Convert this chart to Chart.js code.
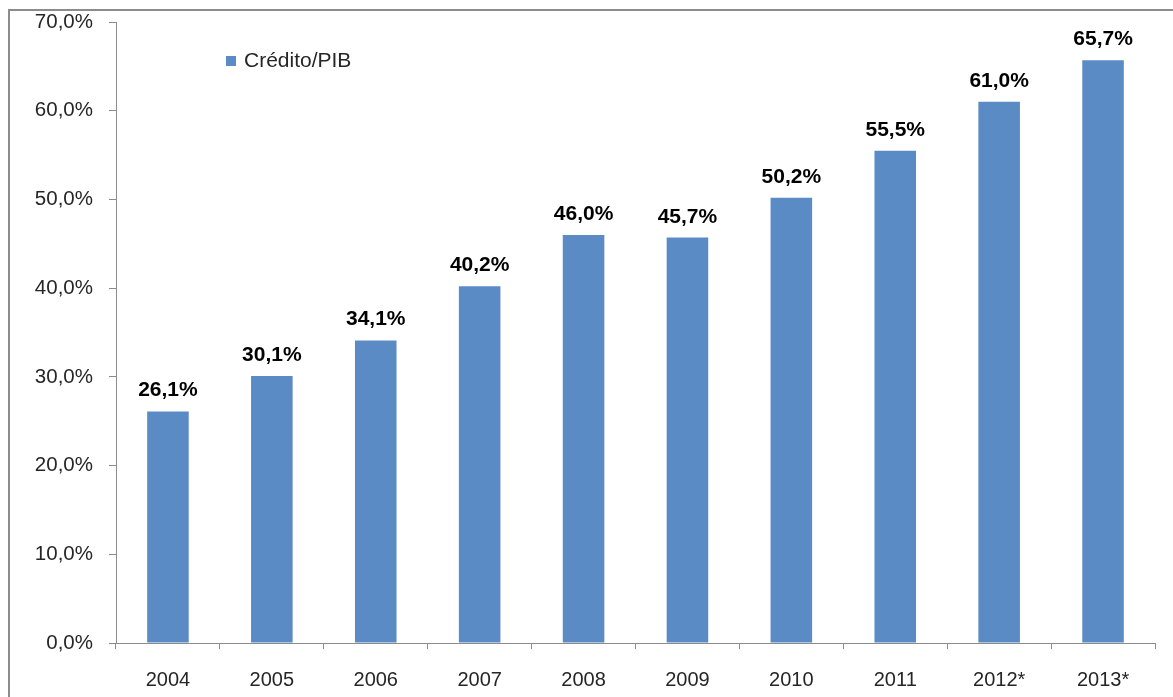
<!DOCTYPE html>
<html lang="pt">
<head>
<meta charset="utf-8">
<title>Crédito/PIB</title>
<script src="https://cdn.jsdelivr.net/npm/chart.js@4/dist/chart.umd.min.js"></script>
<style>
  html, body { margin:0; padding:0; background:#fff; overflow:hidden; }
  #wrap { position:relative; width:1173px; height:697px; }
  #frame { position:absolute; left:8px; top:9px; width:1200px; height:720px;
           border-left:2px solid #8c8c8c; border-top:2px solid #8c8c8c; pointer-events:none; }
  canvas { position:absolute; left:0; top:0; }
</style>
</head>
<body>
<div id="wrap">
  <div id="frame"></div>
  <canvas id="chart" width="1173" height="697"></canvas>
</div>
<script>
// Relação crédito / PIB, em %
const anos = ["2004","2005","2006","2007","2008","2009","2010","2011","2012*","2013*"];
const creditoPib = [26.1, 30.1, 34.1, 40.2, 46.0, 45.7, 50.2, 55.5, 61.0, 65.7];
const serieNome = "Crédito/PIB";

const AZUL = "#5b8bc5";
const CINZA = "#8c8c8c";
const FONTE = "'Liberation Sans', Arial, sans-serif";

const pct = (v) => v.toFixed(1).replace(".", ",") + "%";

// rótulos de valor acima das barras
const rotulos = {
  id:"rotulos",
  afterDatasetsDraw(c) {
    const { ctx } = c;
    const meta = c.getDatasetMeta(0);
    ctx.save();
    ctx.font = "bold 21px " + FONTE;
    ctx.fillStyle = "#000";
    ctx.textAlign = "center";
    ctx.textBaseline = "alphabetic";
    meta.data.forEach((bar, i) => {
      ctx.fillText(pct(c.data.datasets[0].data[i]), bar.x, bar.y - 15);
    });
    ctx.restore();
  },
};

// legenda dentro da área do gráfico
const legenda = {
  id:"legenda",
  afterDraw(c) {
    const { ctx } = c;
    const ds = c.data.datasets[0];
    ctx.save();
    ctx.fillStyle = ds.backgroundColor;
    ctx.fillRect(226, 56, 10, 10);
    ctx.font = "21px " + FONTE;
    ctx.fillStyle = "#262626";
    ctx.textAlign = "left";
    ctx.textBaseline = "middle";
    ctx.fillText(ds.label, 244, 61);
    ctx.restore();
  },
};

new Chart(document.getElementById("chart"), {
  type:"bar",
  data:{
    labels: anos,
    datasets:[{ label: serieNome, data: creditoPib, backgroundColor: AZUL,
      categoryPercentage:1, barPercentage:0.4 }],
  },
  options:{
    responsive:false,
    animation:false,
    layout:{ padding:{ left:0, top:22, right:18, bottom:0 } },
    scales:{
      x:{
        grid:{ display:true, drawOnChartArea:false, drawTicks:true, tickLength:6, color:CINZA, offset:true },
        border:{ display:true, color:CINZA, width:1 },
        ticks:{ color:"#262626", font:{ family:FONTE, size:20 }, padding:19, maxRotation:0 },
        afterFit:(s) => { s.height = 54; s.paddingLeft = 0; s.paddingRight = 0; },
      },
      y:{
        min:0, max:70,
        grid:{ display:true, drawOnChartArea:false, drawTicks:true, tickLength:7, color:CINZA },
        border:{ display:true, color:CINZA, width:1 },
        ticks:{ stepSize:10, color:"#262626", font:{ family:FONTE, size:20.5 }, padding:16,
          callback:(v) => pct(v) },
        afterFit:(s) => { s.width = 116; s.paddingTop = 0; s.paddingBottom = 0; },
      },
    },
    plugins:{ legend:{ display:false }, tooltip:{ enabled:false } },
  },
  plugins:[rotulos, legenda],
});
</script>
</body>
</html>
